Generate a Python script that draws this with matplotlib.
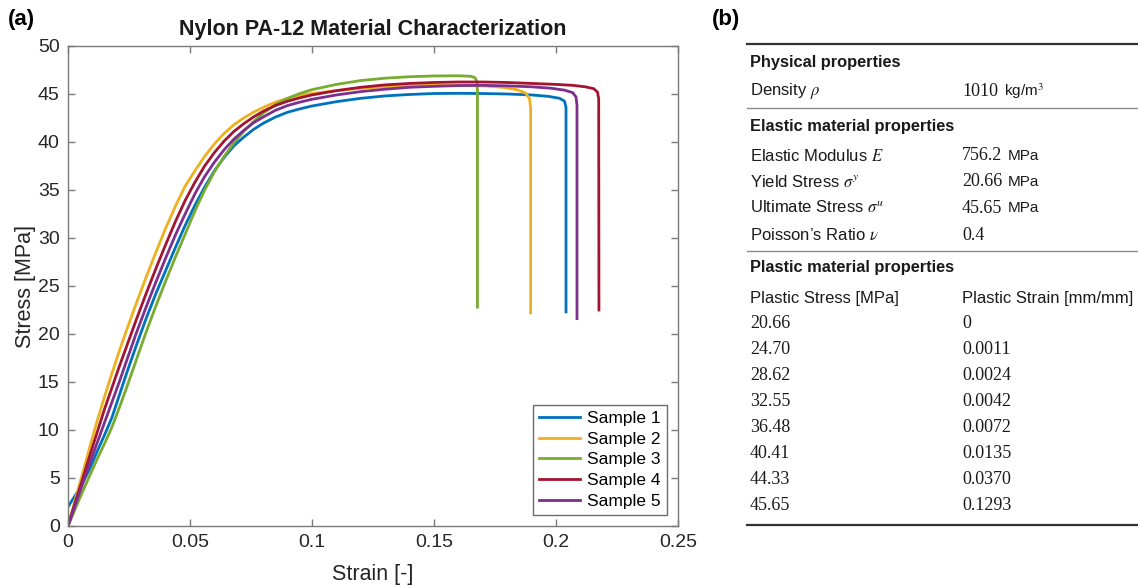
import matplotlib
matplotlib.use("Agg")
import matplotlib.pyplot as plt
from matplotlib.lines import Line2D

plt.rcParams['font.family'] = ['Liberation Sans', 'DejaVu Sans']
plt.rcParams['mathtext.fontset'] = 'stix'

# ---- stress-strain data (strain [-], stress [MPa]) ----
strain_s1 = [0, 0.002, 0.004, 0.006, 0.009, 0.012, 0.015, 0.018, 0.021, 0.024, 0.028, 0.032, 0.036,
             0.040, 0.044, 0.048, 0.052, 0.056, 0.060, 0.064, 0.068, 0.072, 0.076, 0.080, 0.085,
             0.090, 0.095, 0.10, 0.11, 0.12, 0.13, 0.14, 0.15, 0.16, 0.17, 0.18, 0.19, 0.197,
             0.2015, 0.2035, 0.2041, 0.2041]
stress_s1 = [2.0, 2.8, 3.6, 4.5, 6.0, 7.8, 9.5, 11.3, 13.6, 15.9, 18.8, 21.6, 24.2,
             26.6, 29.0, 31.3, 33.4, 35.3, 37.0, 38.4, 39.6, 40.5, 41.3, 41.95, 42.6,
             43.1, 43.45, 43.75, 44.2, 44.55, 44.8, 44.95, 45.05, 45.07, 45.05, 45.0, 44.9, 44.75,
             44.55, 44.25, 43.6, 22.3]

strain_s2 = [0, 0.003, 0.006, 0.009, 0.012, 0.015, 0.018, 0.021, 0.024, 0.028, 0.032, 0.036,
             0.040, 0.044, 0.048, 0.052, 0.056, 0.060, 0.064, 0.068, 0.072, 0.076, 0.080, 0.085,
             0.090, 0.095, 0.10, 0.11, 0.12, 0.13, 0.14, 0.15, 0.16, 0.17, 0.178, 0.184,
             0.1875, 0.1892, 0.1896, 0.1896]
stress_s2 = [0, 2.8, 5.5, 8.3, 11.0, 13.5, 15.9, 18.2, 20.4, 23.2, 25.9, 28.5,
             31.0, 33.3, 35.4, 37.0, 38.5, 39.8, 40.9, 41.8, 42.5, 43.1, 43.6, 44.15,
             44.55, 44.85, 45.05, 45.35, 45.6, 45.75, 45.85, 45.9, 45.9, 45.85, 45.7, 45.45,
             45.1, 44.5, 43.5, 22.2]

strain_s3 = [0, 0.003, 0.006, 0.009, 0.012, 0.015, 0.018, 0.021, 0.024, 0.028, 0.032, 0.036,
             0.040, 0.044, 0.048, 0.052, 0.056, 0.060, 0.064, 0.068, 0.072, 0.076, 0.080, 0.085,
             0.090, 0.095, 0.10, 0.11, 0.12, 0.13, 0.14, 0.15, 0.16, 0.165, 0.1668, 0.1676,
             0.1678, 0.1678]
stress_s3 = [0, 1.8, 3.6, 5.3, 7.0, 8.6, 10.3, 12.3, 14.4, 17.3, 20.2, 22.9,
             25.5, 28.0, 30.4, 32.8, 35.0, 36.9, 38.5, 39.9, 41.1, 42.1, 43.0, 43.9,
             44.55, 45.05, 45.45, 46.0, 46.4, 46.65, 46.8, 46.88, 46.9, 46.85, 46.7, 46.3,
             45.5, 22.8]

strain_s4 = [0, 0.003, 0.006, 0.009, 0.012, 0.015, 0.018, 0.021, 0.024, 0.028, 0.032, 0.036,
             0.040, 0.044, 0.048, 0.052, 0.056, 0.060, 0.064, 0.068, 0.072, 0.076, 0.080, 0.085,
             0.090, 0.095, 0.10, 0.11, 0.12, 0.13, 0.14, 0.15, 0.16, 0.17, 0.18, 0.19, 0.20,
             0.207, 0.212, 0.2155, 0.2170, 0.2175, 0.2176]
stress_s4 = [0, 2.5, 4.9, 7.4, 9.8, 12.2, 14.4, 16.6, 18.7, 21.5, 24.2, 26.8,
             29.3, 31.7, 33.9, 35.8, 37.5, 38.9, 40.1, 41.1, 41.9, 42.6, 43.2, 43.8,
             44.25, 44.6, 44.9, 45.35, 45.7, 45.95, 46.1, 46.2, 46.25, 46.25, 46.2, 46.1, 46.0,
             45.9, 45.75, 45.55, 45.2, 44.5, 22.5]

strain_s5 = [0, 0.003, 0.006, 0.009, 0.012, 0.015, 0.018, 0.021, 0.024, 0.028, 0.032, 0.036,
             0.040, 0.044, 0.048, 0.052, 0.056, 0.060, 0.064, 0.068, 0.072, 0.076, 0.080, 0.085,
             0.090, 0.095, 0.10, 0.11, 0.12, 0.13, 0.14, 0.15, 0.16, 0.17, 0.18, 0.19, 0.198,
             0.2035, 0.2068, 0.2082, 0.2086, 0.2086]
stress_s5 = [0, 2.2, 4.4, 6.6, 8.7, 10.8, 12.9, 15.0, 17.2, 20.1, 22.8, 25.4,
             27.9, 30.3, 32.5, 34.6, 36.4, 37.9, 39.2, 40.3, 41.2, 42.0, 42.6, 43.3,
             43.8, 44.15, 44.45, 44.9, 45.25, 45.5, 45.7, 45.8, 45.88, 45.9, 45.85, 45.75, 45.6,
             45.4, 45.15, 44.7, 43.8, 21.6]

sample_labels = ['Sample 1', 'Sample 2', 'Sample 3', 'Sample 4', 'Sample 5']
sample_colors = ['#0072BD', '#EDB120', '#77AC30', '#A2142F', '#7E2F8E']

x_ticks = [0, 0.05, 0.1, 0.15, 0.2, 0.25]
x_ticklabels = ['0', '0.05', '0.1', '0.15', '0.2', '0.25']
y_ticks = [0, 5, 10, 15, 20, 25, 30, 35, 40, 45, 50]

# ---- table (b) ----
physical_rows = [('Density $\\rho$', '1010', 'kg/m$^{3}$')]
elastic_rows = [('Elastic Modulus $E$', '756.2', 'MPa'),
                ('Yield Stress $\\sigma^{y}$', '20.66', 'MPa'),
                ('Ultimate Stress $\\sigma^{u}$', '45.65', 'MPa'),
                ('Poisson\u2019s Ratio $\\nu$', '0.4', '')]
plastic_stress = ['20.66', '24.70', '28.62', '32.55', '36.48', '40.41', '44.33', '45.65']
plastic_strain = ['0', '0.0011', '0.0024', '0.0042', '0.0072', '0.0135', '0.0370', '0.1293']

W, H = 1138, 585
fig = plt.figure(figsize=(W / 100, H / 100), dpi=100)

def fx(px):
    return px / W

def fy(py):
    return 1 - py / H

ax = fig.add_axes([fx(68), fy(526), fx(678) - fx(68), fy(46) - fy(526)])

curves = [(strain_s1, stress_s1), (strain_s2, stress_s2), (strain_s3, stress_s3),
          (strain_s4, stress_s4), (strain_s5, stress_s5)]
for (xs, ys), lab, col in zip(curves, sample_labels, sample_colors):
    ax.plot(xs, ys, color=col, lw=2.0, label=lab, solid_joinstyle='round')

ax.set_xlim(0, 0.25)
ax.set_ylim(0, 50)
ax.set_xticks(x_ticks)
ax.set_xticklabels(x_ticklabels)
ax.set_yticks(y_ticks)
ax.tick_params(direction='in', length=5, width=1, top=True, right=True,
               labelsize=14, colors='#7a7a7a', labelcolor='#262626', pad=6)
for sp in ax.spines.values():
    sp.set_color('#7a7a7a')
    sp.set_linewidth(1.0)
ax.set_xlabel('Strain [-]', fontsize=15.5, color='#262626', labelpad=9)
ax.set_ylabel('Stress [MPa]', fontsize=15.5, color='#262626', labelpad=1)
ax.set_title('Nylon PA-12 Material Characterization', fontsize=15.5, fontweight='bold',
             color='#1a1a1a', pad=8)

leg = ax.legend(loc='lower right', bbox_to_anchor=(0.982, 0.023), borderaxespad=0,
                fontsize=12.5, frameon=True, fancybox=False, framealpha=1,
                handlelength=2.4, handletextpad=0.4, labelspacing=0.32, borderpad=0.35)
leg.get_frame().set_edgecolor('#6b6b6b')
leg.get_frame().set_linewidth(1.0)

fig.text(fx(8), fy(20), '(a)', fontsize=16, fontweight='bold', va='center', ha='left')
fig.text(fx(712), fy(20), '(b)', fontsize=16, fontweight='bold', va='center', ha='left')

# table drawing
col1, col2 = 750, 962
rule_x0, rule_x1 = 747, 1138

def rule(py, lw, color):
    fig.add_artist(Line2D([fx(rule_x0), fx(rule_x1)], [fy(py), fy(py)], lw=lw, color=color))

def header(py, txt):
    fig.text(fx(col1), fy(py), txt, fontsize=11.8, fontweight='bold', va='center', ha='left',
             color='#1a1a1a')

def value_row(py, label, num, unit):
    fig.text(fx(col1), fy(py), label, fontsize=12, va='center', ha='left', color='#1a1a1a')
    t = fig.text(fx(col2), fy(py), num, fontsize=13, family='Liberation Serif',
                 va='center', ha='left', color='#1a1a1a')
    if unit:
        ax.annotate(unit, xy=(1, 0.5), xycoords=t, xytext=(4, 0), textcoords='offset points',
                    fontsize=11, va='center', ha='left', color='#1a1a1a', annotation_clip=False)

rule(44, 1.6, '#333333')
header(62, 'Physical properties')
value_row(91, *physical_rows[0])
rule(108, 1.0, '#8a8a8a')
header(126, 'Elastic material properties')
elastic_y = [156, 182, 208, 235]
for py, row in zip(elastic_y, elastic_rows):
    value_row(py, *row)
rule(251, 1.0, '#8a8a8a')
header(268, 'Plastic material properties')
fig.text(fx(col1), fy(298), 'Plastic Stress [MPa]', fontsize=12, va='center', ha='left', color='#1a1a1a')
fig.text(fx(col2), fy(298), 'Plastic Strain [mm/mm]', fontsize=12, va='center', ha='left', color='#1a1a1a')
for i, (ps, pe) in enumerate(zip(plastic_stress, plastic_strain)):
    py = 323 + i * 26.1
    fig.text(fx(col1), fy(py), ps, fontsize=13, family='Liberation Serif', va='center', ha='left',
             color='#1a1a1a')
    fig.text(fx(col2), fy(py), pe, fontsize=13, family='Liberation Serif', va='center', ha='left',
             color='#1a1a1a')
rule(525, 1.6, '#333333')

fig.savefig('out.png', dpi=100)
